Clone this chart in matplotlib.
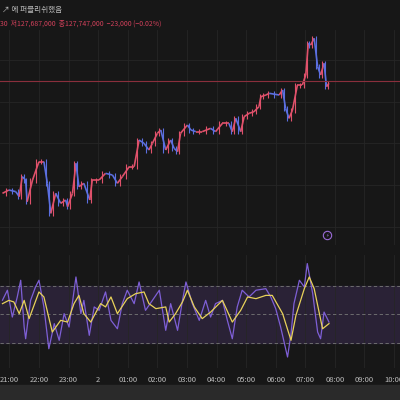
import matplotlib
matplotlib.use("Agg")
import matplotlib.pyplot as plt

plt.rcParams['font.family'] = ['Noto Sans CJK KR', 'DejaVu Sans']

# price closes (millions KRW) at minutes after 21:00
price_min = [-14, -1, 13, 20, 26, 33, 36, 47, 60, 70, 77, 84, 94, 104, 114, 118, 128, 135, 141, 151,
             163, 168, 182, 195, 209, 219, 229, 243, 253, 263, 273, 283, 290, 300, 307, 317, 327, 334, 341, 347,
             361, 368, 378, 391, 408, 418, 432, 445, 452, 459, 469, 476, 486, 496, 506, 510, 520, 527, 547, 554,
             560, 567, 574, 584, 594, 601, 606, 611, 618, 625, 631, 638, 643, 648]
price = [126.40, 126.44, 126.42, 126.36, 126.60, 126.56, 126.30, 126.56, 126.78, 126.78, 126.52, 126.16, 126.40,
         126.28, 126.32, 126.24, 126.40, 126.76, 126.48, 126.52, 126.32, 126.56, 126.56, 126.64, 126.62, 126.52,
         126.60, 126.72, 126.72, 127.04, 127.00, 126.92, 127.00, 127.12, 127.16, 126.92, 127.04, 126.94, 126.90,
         127.12, 127.22, 127.16, 127.14, 127.14, 127.18, 127.14, 127.24, 127.24, 127.14, 127.30, 127.14, 127.32,
         127.36, 127.38, 127.44, 127.56, 127.58, 127.60, 127.58, 127.64, 127.42, 127.30, 127.40, 127.70, 127.70,
         127.82, 128.20, 128.18, 128.26, 127.92, 127.82, 127.96, 127.68, 127.72]
last_price = 127.747

rsi_min = [-14, -4, 6, 16, 23, 30, 33, 43, 53, 60, 70, 80, 91, 101, 111, 121, 135, 145, 151, 162, 172, 182,
           195, 206, 219, 229, 239, 253, 263, 276, 290, 304, 317, 327, 341, 351, 358, 371, 385, 398, 408, 418,
           432, 442, 452, 462, 472, 486, 500, 520, 530, 540, 550, 564, 571, 577, 588, 598, 604, 615, 625, 631,
           638, 648]
rsi = [60.0, 67.0, 48.2, 62.3, 74.0, 41.2, 33.0, 59.9, 69.3, 74.0, 55.3, 26.0, 43.6, 31.9, 50.6, 41.2, 76.3,
       50.6, 59.9, 35.4, 55.3, 52.9, 65.8, 45.9, 40.0, 57.6, 67.0, 57.6, 72.8, 52.9, 59.9, 67.0, 38.9, 57.6,
       38.9, 59.9, 72.8, 57.6, 45.9, 59.9, 48.2, 57.6, 59.9, 45.9, 33.0, 55.3, 67.0, 62.3, 67.0, 68.1, 62.3,
       54.1, 41.2, 20.2, 36.5, 57.6, 74.0, 69.3, 85.7, 64.6, 37.7, 33.0, 51.7, 44.7]

ma_min = [-14, -1, 9, 20, 30, 40, 60, 70, 87, 104, 118, 131, 141, 151, 165, 185, 195, 206, 219, 239, 256,
          273, 283, 297, 317, 324, 337, 351, 361, 375, 391, 408, 432, 452, 469, 483, 500, 520, 533, 554, 571,
          581, 598, 608, 618, 635, 648]
rsi_ma = [57.6, 59.9, 58.8, 50.6, 59.9, 47.1, 65.8, 62.3, 37.7, 45.9, 44.7, 57.6, 63.4, 50.6, 44.7, 57.6,
          55.3, 62.3, 50.6, 61.1, 64.6, 65.8, 57.6, 54.1, 55.3, 44.7, 50.6, 58.8, 67.0, 55.3, 47.1, 51.7, 59.9,
          44.7, 52.9, 62.3, 61.1, 63.4, 63.4, 50.6, 31.9, 49.4, 68.1, 76.3, 68.1, 40.0, 43.6]

hour_ticks = list(range(0, 781, 60))
hour_labels = ['21:00', '22:00', '23:00', '2', '01:00', '02:00', '03:00', '04:00', '05:00',
               '06:00', '07:00', '08:00', '09:00', '10:00']

bg = '#171717'
up_col = '#e0516b'
dn_col = '#5b6fe0'
grid_col = '#262626'

fig = plt.figure(figsize=(4, 4), dpi=100, facecolor=bg)
fig.patches.append(plt.Rectangle((0, 0), 1, 15 / 400, transform=fig.transFigure, color='#2a2a2a', zorder=0))

ax = fig.add_axes([0, 155 / 400, 1, 215 / 400], facecolor=bg)
ax2 = fig.add_axes([0, 32 / 400, 1, 113 / 400], facecolor=bg, sharex=ax)

# candles: body from previous close to close
for i in range(1, len(price)):
    o, c = price[i - 1], price[i]
    col = up_col if c >= o else dn_col
    t0, t1 = price_min[i - 1], price_min[i]
    ax.plot([t0, t1], [o, c], color=col, lw=1.2, solid_capstyle='butt')
    ax.vlines((t0 + t1) / 2, min(o, c) - 0.03, max(o, c) + 0.03, color=col, lw=0.8)
ax.axhline(last_price, color='#8a2f3c', lw=0.8)
ax.set_ylim(125.78, 128.36)

for a in (ax, ax2):
    a.set_xticks(hour_ticks)
    a.grid(True, color=grid_col, lw=0.6)
    for s in a.spines.values():
        s.set_visible(False)
    a.tick_params(length=0, colors='#bbbbbb', labelsize=5.5)
ax.set_yticklabels([])
ax.tick_params(labelbottom=False)
ax2.set_yticks([])
ax2.set_xticklabels(hour_labels)
ax2.tick_params(pad=6)
ax.set_xlim(-19, 792)

ax2.axhspan(30, 70, color='#2a2236', zorder=0)
for lv in (30, 50, 70):
    ax2.axhline(lv, color='#777777', lw=0.6, ls=(0, (4, 3)))
ax2.plot(rsi_min, rsi, color='#7e5fd6', lw=0.9)
ax2.plot(ma_min, rsi_ma, color='#e8d25a', lw=0.9)
ax2.set_ylim(12.5, 91.7)

ax.plot([645], [125.90], marker='o', ms=6, mfc='none', mec='#9b6bd8', mew=0.8)
ax.text(645, 125.90, '⚡', color='#9b6bd8', fontsize=3.5, ha='center', va='center',
        family=['DejaVu Sans'])

fig.text(0.005, 0.985, '↗ 에 퍼블리쉬했음', color='#bbbbbb', fontsize=5.5, va='top')
fig.text(0.0, 0.952, '30  저127,687,000  종127,747,000  −23,000 (−0.02%)', color='#d0405a',
         fontsize=5, va='top')

fig.savefig('out.png', dpi=100, facecolor=bg)
